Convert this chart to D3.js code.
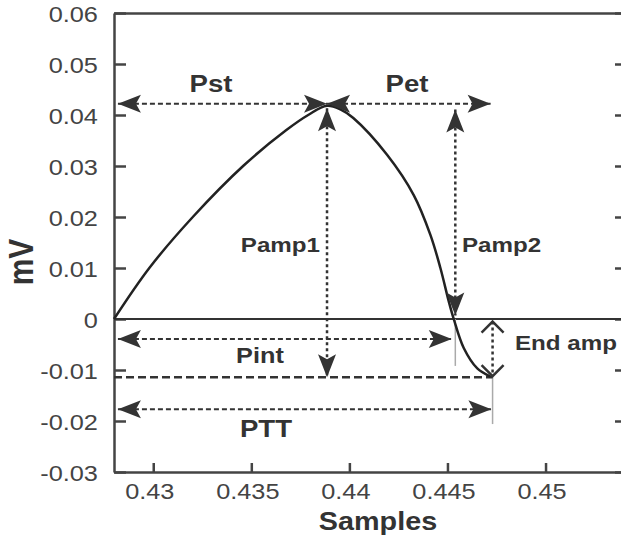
<!DOCTYPE html>
<html>
<head>
<meta charset="utf-8">
<script src="https://cdn.jsdelivr.net/npm/d3@7"></script>
<style>
  body { margin: 0; background: #fff; }
  svg { display: block; font-family: "Liberation Sans", Arial, sans-serif; }
</style>
</head>
<body>
<svg id="chart" width="621" height="540"></svg>
<script>
// P-wave curve
const waveX = [0.428, 0.42982, 0.43204, 0.43461, 0.43677, 0.43790, 0.43886, 0.43954, 0.44020, 0.44192, 0.44328, 0.44413, 0.44464, 0.44507, 0.44532, 0.44583, 0.44652, 0.44719];
const waveY = [0, 0.0101, 0.0201, 0.0301, 0.0370, 0.0400, 0.0418, 0.0411, 0.0394, 0.0322, 0.0243, 0.0165, 0.0100, 0.0034, 0, -0.0057, -0.0097, -0.0113];

const xTicks = [0.43, 0.435, 0.44, 0.445, 0.45];
const xTickLabels = ["0.43", "0.435", "0.44", "0.445", "0.45"];
const yTicks = [0.06, 0.05, 0.04, 0.03, 0.02, 0.01, 0, -0.01, -0.02, -0.03];
const yTickLabels = ["0.06", "0.05", "0.04", "0.03", "0.02", "0.01", "0", "-0.01", "-0.02", "-0.03"];

// annotation landmarks (data units)
const startX = 0.4282, peakX = 0.43886;
const crossX = 0.44522, pamp2X = 0.44540, endX = 0.4473;
const topSpanY = 0.0422, pintY = -0.0039, endLevelY = -0.0114, pttY = -0.0177;

const chart = d3.select("#chart");
const margin = { left: 114, top: 13, right: -3, bottom: 68 };
const W = 621, H = 540;
const innerRight = W - margin.right;
const innerBottom = H - margin.bottom;

const xScale = d3.scaleLinear().domain([0.428, 0.454]).range([margin.left, innerRight]);
const yScale = d3.scaleLinear().domain([-0.03, 0.06]).range([innerBottom, margin.top]);

const INK = "#333";
const SX = 1.15; // the source picture is stretched sideways

function stretchText(g, x, y, str, size, weight, anchor) {
  return g.append("text")
    .attr("transform", `translate(${x},${y}) scale(${SX},1)`)
    .attr("text-anchor", anchor || "start")
    .attr("font-size", size + "px")
    .attr("font-weight", weight)
    .attr("fill", INK)
    .text(str);
}

// Axes
const axisL = d3.axisLeft(yScale).tickValues(yTicks)
  .tickFormat((d, i) => yTickLabels[i]).tickSize(-12).tickSizeOuter(0).tickPadding(14);
const axisB = d3.axisBottom(xScale).tickValues(xTicks)
  .tickFormat((d, i) => xTickLabels[i]).tickSize(-9).tickSizeOuter(0).tickPadding(11);
const axisR = d3.axisRight(yScale).tickValues(yTicks).tickFormat("").tickSize(-9).tickSizeOuter(0);
const axisT = d3.axisTop(xScale).tickValues([]).tickSizeOuter(0);

function styleAxis(sel) {
  sel.select(".domain").attr("stroke", "#444").attr("stroke-width", 2.5);
  sel.selectAll(".tick line").attr("stroke", "#444").attr("stroke-width", 2.5);
  sel.selectAll(".tick text").attr("fill", "#444").attr("font-size", "22px")
    .attr("font-family", "Liberation Sans, Arial, sans-serif");
}

const gL = chart.append("g").attr("transform", `translate(${margin.left},0)`).call(axisL).call(styleAxis);
gL.selectAll(".tick text").attr("transform", `scale(${SX},1)`).attr("dy", "0.4em");
const gB = chart.append("g").attr("transform", `translate(0,${innerBottom})`).call(axisB).call(styleAxis);
gB.selectAll(".tick text").attr("transform", `translate(-4,0) scale(${SX},1)`);
chart.append("g").attr("transform", `translate(${innerRight},0)`).call(axisR).call(styleAxis);
chart.append("g").attr("transform", `translate(0,${margin.top})`).call(axisT).call(styleAxis);

// axis titles
stretchText(chart, 378, 530, "Samples", 25, "bold", "middle");
chart.append("text")
  .attr("transform", `translate(33,262) scale(${SX},1) rotate(-90)`)
  .attr("text-anchor", "middle").attr("font-size", "30px").attr("font-weight", "bold")
  .attr("fill", INK).text("mV");

// zero line
chart.append("line")
  .attr("x1", xScale(0.428)).attr("x2", innerRight)
  .attr("y1", yScale(0)).attr("y2", yScale(0))
  .attr("stroke", INK).attr("stroke-width", 2);

// thin grey guides
chart.append("line")
  .attr("x1", xScale(pamp2X)).attr("x2", xScale(pamp2X))
  .attr("y1", yScale(0)).attr("y2", yScale(-0.0092))
  .attr("stroke", "#aaa").attr("stroke-width", 1.5);
chart.append("line")
  .attr("x1", xScale(endX)).attr("x2", xScale(endX))
  .attr("y1", yScale(endLevelY)).attr("y2", yScale(-0.0206))
  .attr("stroke", "#aaa").attr("stroke-width", 1.5);

// end level dashed line
chart.append("line")
  .attr("x1", xScale(0.428)).attr("x2", xScale(endX))
  .attr("y1", yScale(endLevelY)).attr("y2", yScale(endLevelY))
  .attr("stroke", INK).attr("stroke-width", 2.5).attr("stroke-dasharray", "8,4");

// the wave
const wave = waveX.map((x, i) => ({ x: x, y: waveY[i] }));
chart.append("path")
  .datum(wave)
  .attr("fill", "none").attr("stroke", "#222").attr("stroke-width", 2.5)
  .attr("d", d3.line().x(d => xScale(d.x)).y(d => yScale(d.y)).curve(d3.curveCatmullRom.alpha(0.5)));

// arrows
function arrow(x1, y1, x2, y2, dash, open) {
  const p1 = [xScale(x1), yScale(y1)], p2 = [xScale(x2), yScale(y2)];
  chart.append("line")
    .attr("x1", p1[0]).attr("y1", p1[1]).attr("x2", p2[0]).attr("y2", p2[1])
    .attr("stroke", INK).attr("stroke-width", dash === "3,3" ? 2.5 : 2)
    .attr("stroke-dasharray", dash);
  const ang = Math.atan2(p2[1] - p1[1], p2[0] - p1[0]) * 180 / Math.PI;
  [[p2, ang], [p1, ang + 180]].forEach(t => {
    const h = chart.append("path")
      .attr("transform", `translate(${t[0][0]},${t[0][1]}) rotate(${t[1]})`);
    if (open) {
      h.attr("d", "M-11,-11 L0,0 L-11,11").attr("fill", "none")
        .attr("stroke", INK).attr("stroke-width", 2.5);
    } else {
      h.attr("d", "M0,0 L-23,-9 L-18,0 L-23,9 Z").attr("fill", INK);
    }
  });
}

arrow(startX, topSpanY, peakX, topSpanY, "5,3");
arrow(peakX, topSpanY, 0.4472, topSpanY, "5,3");
arrow(peakX, 0.0413, peakX, endLevelY, "3,3");
arrow(pamp2X, 0.0411, pamp2X, 0.0007, "3,3");
arrow(startX, pintY, crossX, pintY, "5,3");
arrow(startX, pttY, 0.44724, pttY, "5,3");
arrow(endX, -0.0005, endX, -0.0112, "3,3", true);

// labels
stretchText(chart, 211, 92, "Pst", 24, "bold", "middle");
stretchText(chart, 407, 92, "Pet", 24, "bold", "middle");
stretchText(chart, 320, 252, "Pamp1", 21, "bold", "end");
stretchText(chart, 462, 252, "Pamp2", 21, "bold", "start");
stretchText(chart, 260, 363, "Pint", 22, "bold", "middle");
stretchText(chart, 266, 437, "PTT", 24, "bold", "middle");
stretchText(chart, 515, 350, "End amp", 21, "bold", "start");
</script>
</body>
</html>
